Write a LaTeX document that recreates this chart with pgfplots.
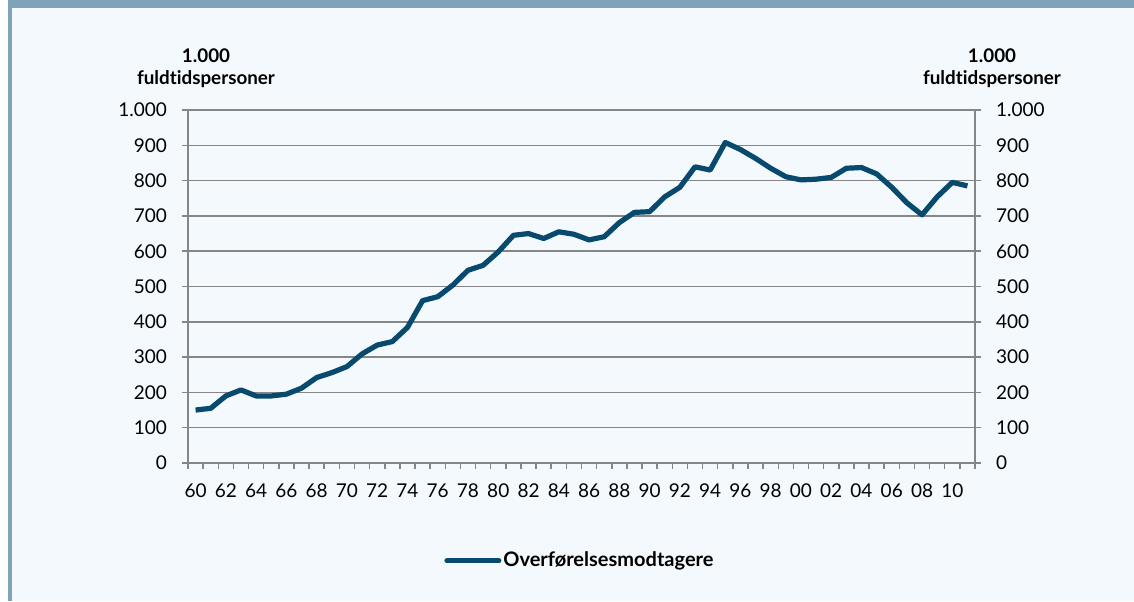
\documentclass[border=0pt]{standalone}
\usepackage{fontspec}
\setmainfont{Lato}
\usepackage{pgfplots}
\usepackage{pgfplotstable}
\pgfplotsset{compat=1.18}
\definecolor{bg}{RGB}{244,249,253}
\definecolor{band}{RGB}{127,163,185}
\definecolor{gridgray}{RGB}{134,134,134}
\definecolor{series}{RGB}{7,74,110}

\pgfplotstableread{
i year value
0 1960 150
1 1961 155
2 1962 190
3 1963 207
4 1964 190
5 1965 190
6 1966 195
7 1967 212
8 1968 242
9 1969 256
10 1970 273
11 1971 309
12 1972 334
13 1973 344
14 1974 384
15 1975 460
16 1976 471
17 1977 504
18 1978 546
19 1979 560
20 1980 598
21 1981 645
22 1982 650
23 1983 636
24 1984 655
25 1985 648
26 1986 632
27 1987 641
28 1988 681
29 1989 710
30 1990 712
31 1991 754
32 1992 781
33 1993 839
34 1994 830
35 1995 908
36 1996 888
37 1997 863
38 1998 835
39 1999 811
40 2000 802
41 2001 804
42 2002 809
43 2003 835
44 2004 837
45 2005 819
46 2006 781
47 2007 737
48 2008 703
49 2009 754
50 2010 795
51 2011 785
}\datatable

\pgfplotsset{
  commonaxis/.style={
    at={(94pt,69pt)}, anchor=south west,
    width=393.5pt, height=176.5pt, scale only axis,
    xmin=-0.5, xmax=51.5, ymin=0, ymax=1000,
    ytick={0,100,...,1000},
    axis line style={gridgray, line width=0.75pt, -},
    every tick/.style={gridgray, line width=0.75pt},
    major tick length=3pt,
    tick align=outside,
    /pgf/number format/1000 sep={.},
    /pgf/number format/assume math mode=true,
    tick label style={font=\fontsize{9.5}{11}\selectfont, text=black},
    label style={font=\bfseries\fontsize{9.4}{11}\selectfont\addfontfeatures{Ligatures=NoCommon}, align=center, inner sep=0pt},
  }
}

\begin{document}
\begin{tikzpicture}
\useasboundingbox (0,0) rectangle (567pt,300.5pt);
\fill[white] (0,0) rectangle (567pt,300.5pt);
\fill[bg] (6pt,0) rectangle (567pt,296.5pt);
\fill[band] (4pt,296.5pt) rectangle (567pt,300.5pt);
\fill[band] (4pt,0) rectangle (6pt,300.5pt);

\begin{axis}[commonaxis,
  axis x line*=bottom, axis y line*=left,
  xtick={-0.5,0.5,...,51.5}, xticklabels={},
  extra x ticks={0,2,...,50},
  extra x tick labels={60,62,64,66,68,70,72,74,76,78,80,82,84,86,88,90,92,94,96,98,00,02,04,06,08,10},
  extra x tick style={major tick length=0pt, xticklabel style={yshift=-7pt}},
  ymajorgrids, grid style={gridgray, line width=0.75pt},
  yticklabel style={xshift=-4pt},
  ylabel={1.000\\fuldtidspersoner},
  ylabel style={rotate=-90, at={(axis description cs:0.0229,1.062)}, anchor=south},
  legend style={at={(axis description cs:0.498,-0.277)}, anchor=center, draw=none, fill=none,
    font=\bfseries\fontsize{10}{12}\selectfont, inner sep=0pt,
    nodes={inner sep=1pt}},
  legend image code/.code={\draw[series, line width=2.5pt, line cap=round] (0pt,0pt) -- (26pt,0pt);},
]
\addplot[series, line width=2.6pt, line join=round] table[x=i, y=value] {\datatable};
\addlegendentry{Overførelsesmodtagere}
\end{axis}

\begin{axis}[commonaxis,
  axis x line=none, axis y line*=right,
  yticklabel style={xshift=4pt},
  ylabel={1.000\\fuldtidspersoner},
  ylabel style={rotate=-90, at={(axis description cs:1.0216,1.062)}, anchor=south},
]
\addplot[draw=none] coordinates {(0,0)};
\end{axis}
\end{tikzpicture}
\end{document}
